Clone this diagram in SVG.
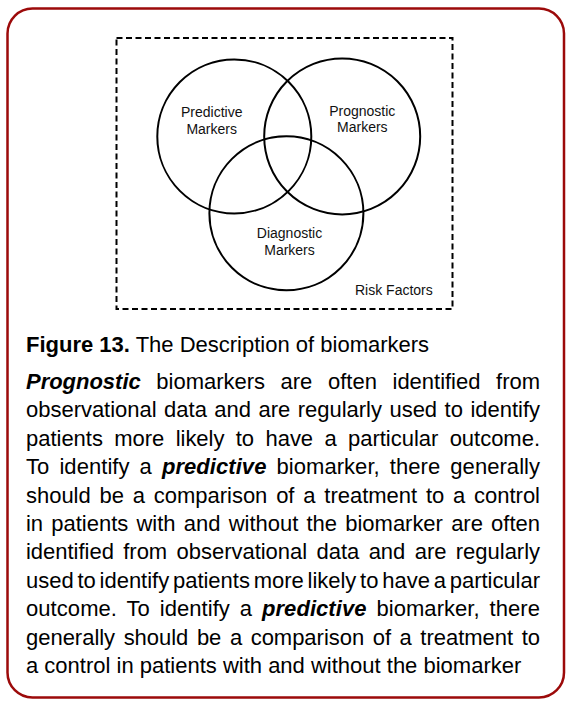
<svg xmlns="http://www.w3.org/2000/svg" width="575" height="710" viewBox="0 0 575 710">
<style>
.venn{fill:none;stroke:#000;stroke-width:2}
.lbl{font-family:"Liberation Sans",Arial,sans-serif;font-size:14px;fill:#111;text-anchor:middle}
.body{font-family:"Liberation Sans",Arial,sans-serif;font-size:22px;fill:#000}
.bi{font-weight:bold;font-style:italic}
.b{font-weight:bold}
</style>
<rect x="0" y="0" width="575" height="710" fill="#fff"/>
<g id="frame">
<rect x="7.5" y="8.5" width="556.5" height="689" rx="25" ry="25" fill="#fff" stroke="#9c0a0a" stroke-width="2.5"/>
</g>
<g id="risk-factors">
<rect x="116.5" y="38" width="336" height="271" fill="none" stroke="#000" stroke-width="2" stroke-dasharray="6 3.5"/>
<text class="lbl" x="355" y="295" style="text-anchor:start">Risk Factors</text>
</g>
<g id="predictive">
<circle class="venn" cx="234.3" cy="136.4" r="77"/>
<text class="lbl" x="211.7" y="117.3">Predictive</text>
<text class="lbl" x="211.7" y="134">Markers</text>
</g>
<g id="prognostic">
<circle class="venn" cx="342.2" cy="136.4" r="78"/>
<text class="lbl" x="362.3" y="116">Prognostic</text>
<text class="lbl" x="362.3" y="132">Markers</text>
</g>
<g id="diagnostic">
<circle class="venn" cx="286.4" cy="213.3" r="77"/>
<text class="lbl" x="289.5" y="238">Diagnostic</text>
<text class="lbl" x="289.5" y="255">Markers</text>
</g>
<g id="connectors"></g>
<g id="caption">
<text class="body" x="26" y="352"><tspan class="b">Figure 13.</tspan> The Description of biomarkers</text>
</g>
<g id="paragraph">
<text class="body" x="26" y="389" textLength="514" lengthAdjust="spacing" word-spacing="9.6"><tspan class="bi">Prognostic</tspan> biomarkers are often identified from</text>
<text class="body" x="26" y="417.4" textLength="514" lengthAdjust="spacing" word-spacing="1.43">observational data and are regularly used to identify</text>
<text class="body" x="26" y="445.8" textLength="514" lengthAdjust="spacing" word-spacing="5.27">patients more likely to have a particular outcome.</text>
<text class="body" x="26" y="474.2" textLength="514" lengthAdjust="spacing" word-spacing="3.91">To identify a <tspan class="bi">predictive</tspan> biomarker, there generally</text>
<text class="body" x="26" y="502.6" textLength="514" lengthAdjust="spacing" word-spacing="2.74">should be a comparison of a treatment to a control</text>
<text class="body" x="26" y="531" textLength="514" lengthAdjust="spacing" word-spacing="2.16">in patients with and without the biomarker are often</text>
<text class="body" x="26" y="559.4" textLength="514" lengthAdjust="spacing" word-spacing="3.3">identified from observational data and are regularly</text>
<text class="body" x="26" y="587.8" textLength="514" lengthAdjust="spacing" word-spacing="-2.28">used to identify patients more likely to have a particular</text>
<text class="body" x="26" y="616.2" textLength="514" lengthAdjust="spacing" word-spacing="3.71">outcome. To identify a <tspan class="bi">predictive</tspan> biomarker, there</text>
<text class="body" x="26" y="644.6" textLength="514" lengthAdjust="spacing" word-spacing="2.47">generally should be a comparison of a treatment to</text>
<text class="body" x="26" y="673">a control in patients with and without the biomarker</text>
</g>
</svg>
